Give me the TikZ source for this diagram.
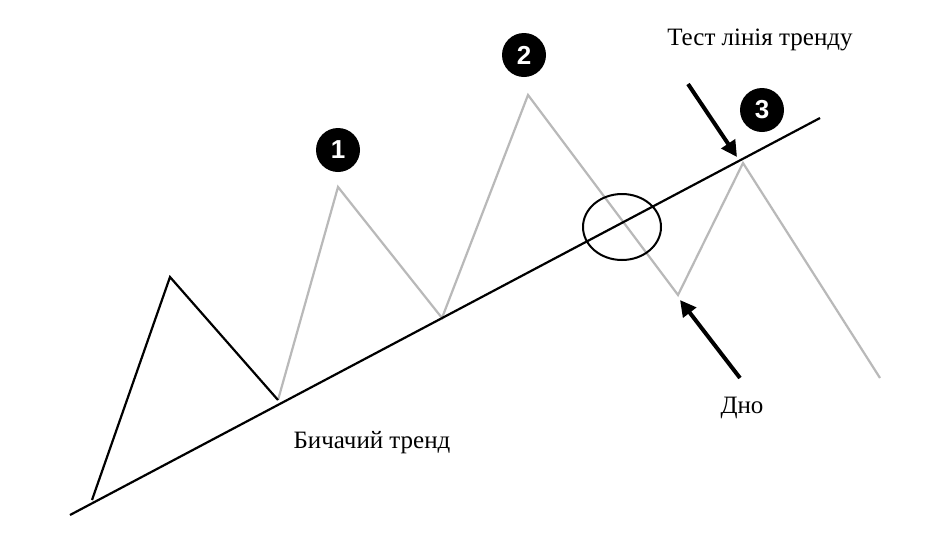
\documentclass[tikz,border=0pt]{standalone}
\usepackage{fontspec}
\setmainfont{Liberation Serif}
\newfontfamily\numfont{Liberation Sans}
\usetikzlibrary{shapes.geometric,arrows.meta}
\begin{document}
\begin{tikzpicture}[x=1pt,y=-1pt,
  zig/.style={line width=2.2pt,gray!55,line join=miter},
  badge/.style={circle,fill=black,minimum size=44pt,inner sep=0pt,text=white,font=\numfont\bfseries\fontsize{26}{26}\selectfont},
  lbl/.style={font=\fontsize{25}{28}\selectfont,inner sep=0pt},
  arr/.style={line width=4pt,-{Triangle[length=16pt,width=16pt]}}]
\useasboundingbox (0,0) rectangle (939,555);
\fill[white] (0,0) rectangle (939,555);
\coordinate (t0) at (70,515); \coordinate (t1) at (820,118);
\coordinate (p0) at (92,500); \coordinate (p1) at (170,277); \coordinate (p2) at (278,400);
\coordinate (p3) at (338,187); \coordinate (p4) at (442,318); \coordinate (p5) at (528,95);
\coordinate (p6) at (678,295); \coordinate (p7) at (743,163); \coordinate (p8) at (880,378);
\draw[zig] (p2)--(p3)--(p4)--(p5)--(p6)--(p7)--(p8);
\draw[line width=2.2pt,black] (p0)--(p1)--(p2);
\draw[line width=2.2pt,black] (t0)--(t1);
\node[draw,line width=2pt,ellipse,minimum width=78pt,minimum height=66pt] (c) at (622,227) {};
\node[badge] (b1) at (338,150) {1};
\node[badge] (b2) at (524,55) {2};
\node[badge] (b3) at (762,110) {3};
\coordinate (a1s) at (688,84); \coordinate (a1e) at (737,157);
\coordinate (a2s) at (740,378); \coordinate (a2e) at (680,300);
\draw[arr] (a1s)--(a1e);
\draw[arr] (a2s)--(a2e);
\node[lbl] (l1) at (760,40) {Тест лінія тренду};
\node[lbl] (l2) at (742,408) {Дно};
\node[lbl] (l3) at (372,443) {Бичачий тренд};
\end{tikzpicture}
\end{document}
